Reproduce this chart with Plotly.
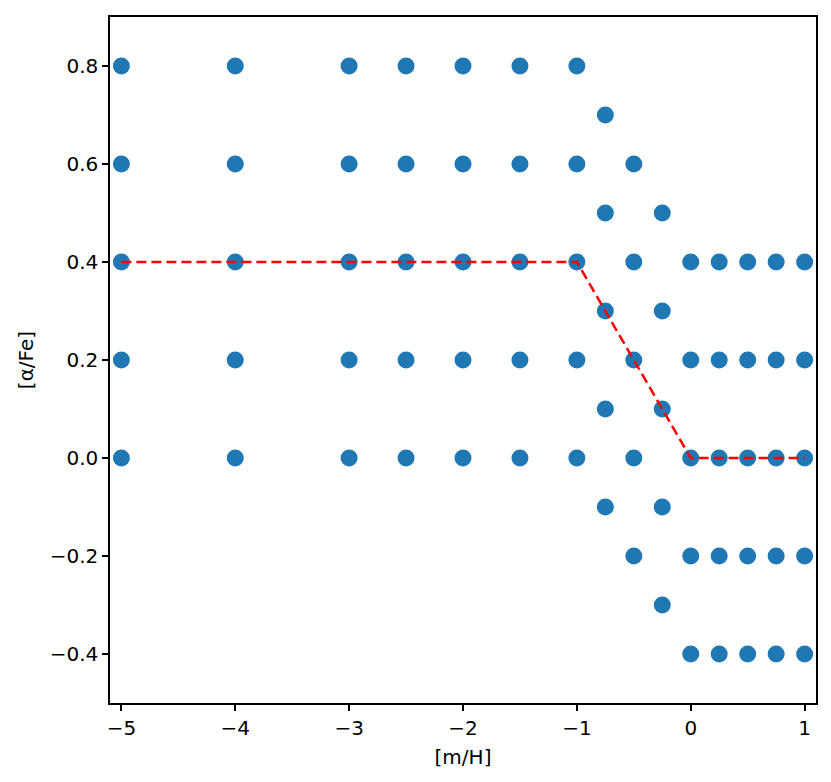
import plotly.graph_objects as go

# grid of (m/H, alpha/Fe) points
grid_mh = [-5, -4, -3, -2.5, -2, -1.5, -1]
grid_alpha = [0.0, 0.2, 0.4, 0.6, 0.8]

mid_mh = [-0.75, -0.5, -0.25]
mid_alpha = [
    [0.7, 0.5, 0.3, 0.1, -0.1],
    [0.6, 0.4, 0.2, 0.0, -0.2],
    [0.5, 0.3, 0.1, -0.1, -0.3],
]

rich_mh = [0, 0.25, 0.5, 0.75, 1]
rich_alpha = [0.4, 0.2, 0.0, -0.2, -0.4]

# dashed relation
line_mh = [-5, -1, 0, 1]
line_alpha = [0.4, 0.4, 0.0, 0.0]

xs, ys = [], []
for m in grid_mh:
    for a in grid_alpha:
        xs.append(m)
        ys.append(a)
for m, col in zip(mid_mh, mid_alpha):
    for a in col:
        xs.append(m)
        ys.append(a)
for m in rich_mh:
    for a in rich_alpha:
        xs.append(m)
        ys.append(a)

fig = go.Figure()
fig.add_trace(go.Scatter(
    x=xs, y=ys, mode="markers",
    marker=dict(size=17, color="#1f77b4", line=dict(width=0)),
))
fig.add_trace(go.Scatter(
    x=line_mh, y=line_alpha, mode="lines",
    line=dict(color="red", width=2.5, dash="10px,5px"),
))

font = dict(family="DejaVu Sans", size=20, color="black")
axis_style = dict(
    showgrid=False, zeroline=False, showline=True, mirror=True,
    linecolor="black", linewidth=1.5,
    ticks="outside", ticklen=6, tickwidth=1.5, tickcolor="black",
    tickfont=font,
)

fig.update_xaxes(
    range=[-5.1, 1.1], tickvals=[-5, -4, -3, -2, -1, 0, 1],
    title=dict(text="[m/H]", font=font, standoff=11),
    **axis_style,
)
fig.update_yaxes(
    range=[-0.5, 0.9], tickvals=[-0.4, -0.2, 0.0, 0.2, 0.4, 0.6, 0.8],
    tickformat=".1f",
    title=dict(text="[α/Fe]", font=font, standoff=11),
    **axis_style,
)

# page body adds ~8px offset, so the figure is a bit smaller than the window
fig.update_layout(
    width=823, height=774,
    margin=dict(l=102, r=15, t=7, b=79),
    plot_bgcolor="white", paper_bgcolor="white",
    showlegend=False,
)

fig.write_html("out.html")
